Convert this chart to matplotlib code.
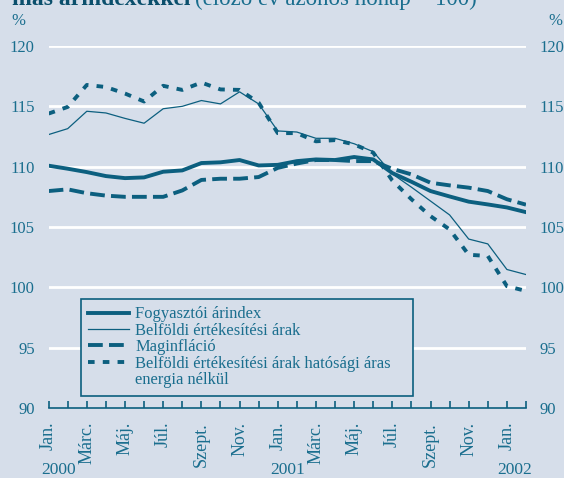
import matplotlib.pyplot as plt
from matplotlib.lines import Line2D
from matplotlib.transforms import blended_transform_factory

# havi adatok, 2000. jan - 2002. feb
months = list(range(26))
fogyasztoi = [110.08, 109.83, 109.55, 109.22, 109.05, 109.11, 109.58, 109.69, 110.30, 110.36,
              110.55, 110.10, 110.15, 110.46, 110.60, 110.55, 110.80, 110.60, 109.47, 108.75,
              107.98, 107.53, 107.10, 106.87, 106.62, 106.23]
belfoldi = [112.66, 113.15, 114.59, 114.45, 114.00, 113.60, 114.80, 115.00, 115.48, 115.20,
            116.20, 115.20, 112.96, 112.87, 112.35, 112.35, 111.90, 111.24, 109.40, 108.30,
            107.15, 106.00, 104.00, 103.60, 101.48, 101.06]
maginflacio = [107.98, 108.12, 107.80, 107.60, 107.50, 107.50, 107.50, 108.03, 108.90, 109.00,
               109.00, 109.14, 109.90, 110.26, 110.55, 110.55, 110.46, 110.46, 109.82, 109.36,
               108.67, 108.45, 108.26, 107.98, 107.30, 106.85]
hatosagi_nelkul = [114.40, 114.95, 116.77, 116.60, 116.06, 115.40, 116.70, 116.36, 116.97, 116.40,
                   116.36, 115.30, 112.78, 112.78, 112.10, 112.20, 111.85, 111.16, 108.85, 107.30,
                   105.90, 104.80, 102.70, 102.60, 100.10, 99.70]

month_labels = ["Jan.", "Márc.", "Máj.", "Júl.", "Szept.", "Nov.",
                "Jan.", "Márc.", "Máj.", "Júl.", "Szept.", "Nov.", "Jan."]
years = ["2000", "2001", "2002"]
year_pos = [0.5, 12.5, 24.4]
yticks = [90, 95, 100, 105, 110, 115, 120]

BG = "#D6DEEA"
LINE = "#0C5F7F"
TXT = "#1A6E8E"

plt.rcParams["font.family"] = ["Liberation Serif", "DejaVu Serif"]

fig = plt.figure(figsize=(5.64, 4.78), dpi=100, facecolor=BG)
ax = fig.add_axes([0.0862, 0.1464, 0.8464, 0.7574], facecolor=BG)

for y in yticks[1:]:
    ax.axhline(y, color="white", lw=2, zorder=1)

ax.plot(months, fogyasztoi, color=LINE, lw=2.8, zorder=3, label="Fogyasztói árindex")
ax.plot(months, belfoldi, color=LINE, lw=0.9, zorder=3, label="Belföldi értékesítési árak")
ax.plot(months, maginflacio, color=LINE, lw=2.8, dashes=(3.8, 1.6), zorder=3, label="Maginfláció")
ax.plot(months, hatosagi_nelkul, color=LINE, lw=2.8, dashes=(1.7, 2.1), zorder=3,
        label="Belföldi értékesítési árak hatósági áras")

ax.set_xlim(0, 25)
ax.set_ylim(90, 120)
for s in ["left", "right", "top"]:
    ax.spines[s].set_visible(False)
ax.spines["bottom"].set_color(LINE)
ax.spines["bottom"].set_linewidth(1.2)

ax.set_xticks(months)
ax.set_xticklabels([month_labels[i // 2] if i % 2 == 0 else "" for i in months],
                   rotation=90, fontsize=13, color=TXT)
ax.tick_params(axis="x", direction="in", length=5, width=1.2, color=LINE, pad=10)

ax.set_yticks(yticks)
ax.tick_params(axis="y", length=0, labelsize=12, labelcolor=TXT, pad=10,
               labelleft=True, labelright=True)

tr = blended_transform_factory(ax.transData, fig.transFigure)
for pos, yr in zip(year_pos, years):
    ax.text(pos, 0.0, yr, transform=tr, ha="center", va="bottom", fontsize=12.5, color=TXT)

fig.text(0.021, 1 - 21 / 478, "%", fontsize=12, color=TXT, ha="left", va="center")
fig.text(0.998, 1 - 21 / 478, "%", fontsize=12, color=TXT, ha="right", va="center")

# cím (felül levágva, mint az eredetin)
t1 = fig.text(0.021, 1 - 5 / 478, "más árindexekkel", fontsize=17, fontweight="bold",
              color="#0B4F6C", ha="left", va="baseline")
fig.canvas.draw()
bb = t1.get_window_extent()
fig.text(bb.x1 / fig.bbox.width + 0.008, 1 - 5 / 478, "(előző év azonos hónap = 100)",
         fontsize=16.5, color=TXT, ha="left", va="baseline")

handles, labels = ax.get_legend_handles_labels()
handles.append(Line2D([], [], color="none"))
labels.append("energia nélkül")
leg = ax.legend(handles, labels, loc="lower left", bbox_to_anchor=(0.067, 0.034, 0.696, 0.2),
                mode="expand", fontsize=11.9, frameon=True, fancybox=False, handlelength=2.5,
                handletextpad=0.35, labelspacing=0.03, borderpad=0.45, borderaxespad=0,
                labelcolor=TXT, facecolor=BG, edgecolor=LINE, framealpha=1)
leg.get_frame().set_linewidth(1.2)

plt.savefig("out.png", dpi=100, facecolor=BG)
